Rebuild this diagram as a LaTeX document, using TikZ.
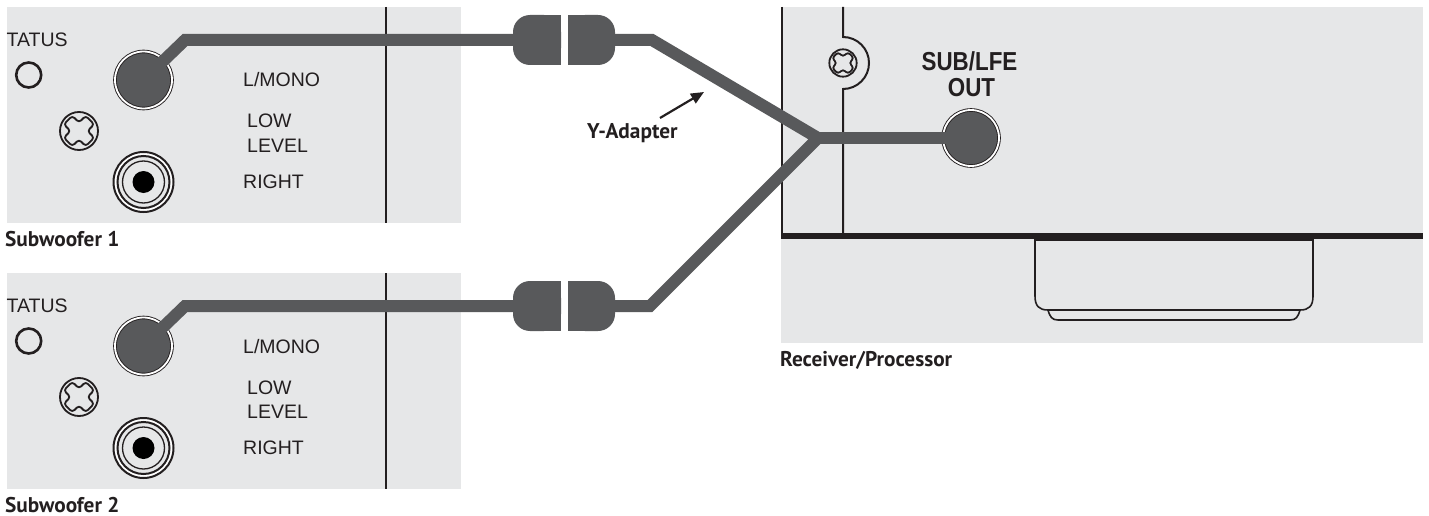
\documentclass[tikz,border=0pt]{standalone}
\usepackage{fontspec}
\setmainfont{Liberation Sans}
\newfontfamily\lblfont{PT Sans}
\newfontfamily\condfont[FakeStretch=0.86]{Liberation Sans}
\usetikzlibrary{arrows.meta}
\definecolor{panel}{HTML}{E6E7E8}
\definecolor{cablec}{HTML}{58595B}
\definecolor{ink}{HTML}{231F20}
\tikzset{
  divider/.style={draw=ink, line width=2pt},
  cable/.style={draw=cablec, line width=12pt, line join=miter},
  jack/.style={circle, inner sep=0pt, minimum size=57pt, fill=cablec, draw=ink, line width=0.9pt, double=white, double distance=1.8pt},
  rca/.style={circle, inner sep=0pt, minimum size=60pt, fill=white, draw=ink, line width=2pt},
  led/.style={circle, inner sep=0pt, minimum size=25pt, draw=ink, line width=2.6pt},
  paneltext/.style={font=\fontsize{19.5}{20}\selectfont, text=ink, inner sep=0pt, anchor=base west},
  caption/.style={font=\lblfont\bfseries\fontsize{21.3}{23}\selectfont, text=ink, inner sep=0pt, anchor=base west},
  jacklabel/.style={font=\condfont\bfseries\fontsize{26}{28}\selectfont, text=ink, inner sep=0pt, anchor=base},
  screw/.pic={
    \draw[line width=1.8pt, draw=ink] (0,0) circle[radius=19];
    \draw[line width=1.8pt, draw=ink, rounded corners=3pt, rotate=45]
      (6,6) -- (6,15.5) -- (-6,15.5) -- (-6,6) -- (-15.5,6) -- (-15.5,-6) -- (-6,-6)
      -- (-6,-15.5) -- (6,-15.5) -- (6,-6) -- (15.5,-6) -- (15.5,6) -- cycle;
  }
}
\newcommand\subunit[3]{%
\begin{scope}[shift={(0,#1)}]
  \fill[panel] (7,7) rectangle (461,223);
  \draw[divider] (386,7) -- (386,223);
  \node[paneltext] (status#2) at (6.5,46.5) {TATUS};
  \node[led] (led#2) at (28.7,75) {};
  \pic at (79,131) {screw};
  \node[jack] (jack#2) at (143.5,80) {};
  \node[rca] (rca#2) at (143.5,182) {};
  \draw[ink, line width=2pt, fill=panel] (rca#2.center) circle[radius=26];
  \draw[ink, line width=1.3pt] (rca#2.center) circle[radius=21];
  \fill[black] (rca#2.center) circle[radius=11];
  \node[paneltext] (lmono#2) at (243,87) {L/MONO};
  \node[paneltext] (low#2) at (247,128) {LOW};
  \node[paneltext] (level#2) at (247,152) {LEVEL};
  \node[paneltext] (right#2) at (243,188) {RIGHT};
  \node[caption] (cap#2) at (5,246.5) {#3};
  \coordinate (bend#2) at (185,40);
  \coordinate (plugin#2) at (530,40);
  \coordinate (plugout#2) at (600,40);
  \fill[cablec, rounded corners=17pt] (513,15) rectangle (561,65);
  \fill[cablec] (540,15) rectangle (561,65);
  \fill[cablec, rounded corners=17pt] (568,15) rectangle (615,65);
  \fill[cablec] (568,15) rectangle (590,65);
\end{scope}}
\begin{document}
\begin{tikzpicture}[x=1pt,y=-1pt]
\useasboundingbox (0,0) rectangle (1429,516);
% subwoofers
\subunit{0}{a}{Subwoofer 1}
\subunit{266}{b}{Subwoofer 2}
% receiver
\fill[panel] (782,7) rectangle (1423,236);
\fill[panel] (781,236) rectangle (1423,343);
\draw[ink, line width=2pt] (782,7) -- (782,236);
\draw[ink, line width=2pt] (843,7) -- (843,37) arc[start angle=-90, end angle=90, radius=26] -- (843,236);
\pic[scale=0.72] at (843,63) {screw};
\filldraw[fill=panel, draw=ink, line width=1.6pt]
  (1035,236) -- (1035,296) .. controls (1035,306) and (1039,310) .. (1048,310)
  .. controls (1050,317) and (1052,320) .. (1058,320) -- (1290,320)
  .. controls (1296,320) and (1298,317) .. (1300,310)
  .. controls (1309,310) and (1313,306) .. (1313,296) -- (1313,236);
\draw[ink, line width=1.4pt] (1048,310) -- (1300,310);
\draw[ink, line width=6pt] (781,236) -- (1423,236);
\draw[ink, line width=2pt] (1035,239.5) -- (1313,239.5);
\node[jack, minimum size=56pt] (sub) at (971,138) {};
\node[jacklabel] (sublbl) at (969.5,70.7) {SUB/LFE};
\node[jacklabel] (outlbl) at (971.5,96.7) {OUT};
\node[caption] (rcv) at (780,366) {Receiver/Processor};
% cables
\coordinate (jn) at (818,138);
\coordinate (ya) at (652,40);
\coordinate (yb) at (650,306);
\draw[cable] (jacka.center) -- (benda) -- (plugina);
\draw[cable] (jackb.center) -- (bendb) -- (pluginb);
\draw[cable] (plugouta) -- (ya) -- (jn) -- (yb) -- (plugoutb);
\draw[cable] (jn) -- (sub.center);
% label
\node[caption] (ylbl) at (587,139) {Y-Adapter};
\coordinate (ytip) at (704,92);
\draw[ink, line width=2.2pt, -{Triangle[length=13pt, width=11pt]}] (660,118) -- (ytip);
\end{tikzpicture}
\end{document}
